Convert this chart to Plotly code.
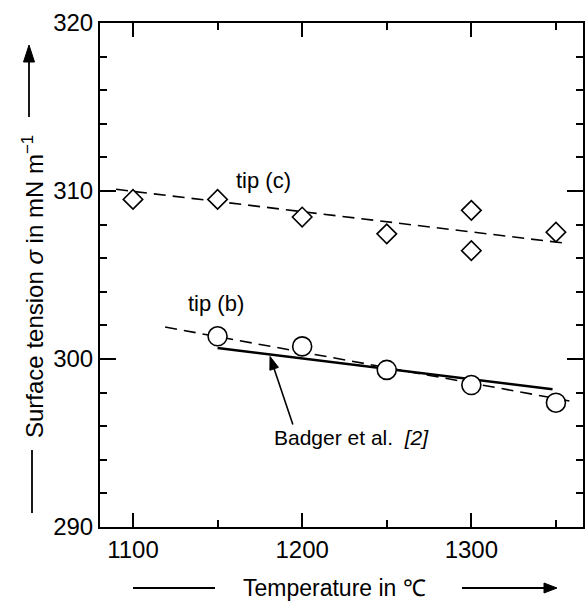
import math
import plotly.graph_objects as go

# ---- data ----
tip_c_temp = [1100, 1150, 1200, 1250, 1300, 1300, 1350]
tip_c_sigma = [309.5, 309.5, 308.45, 307.45, 308.85, 306.45, 307.55]
fit_c_temp = [1090, 1355]
fit_c_sigma = [310.1, 306.9]

tip_b_temp = [1150, 1200, 1250, 1300, 1350]
tip_b_sigma = [301.35, 300.75, 299.35, 298.45, 297.4]
fit_b_temp = [1119, 1358]
fit_b_sigma = [301.9, 297.5]

badger_temp = [1150, 1348]
badger_sigma = [300.65, 298.2]

x_range = [1080.5, 1366]
y_range = [290, 320]

FONT = "Liberation Sans, Arial, Helvetica, sans-serif"
W, H = 586, 603
ML, MR, MT, MB = 100, 3, 23, 76
PW, PH = W - ML - MR, H - MT - MB

def px(xp):
    return (xp - ML) / PW

def py(yp):
    return (H - MB - yp) / PH

def data_to_pix(x, y):
    xp = ML + (x - x_range[0]) / (x_range[1] - x_range[0]) * PW
    yp = H - MB - (y - y_range[0]) / (y_range[1] - y_range[0]) * PH
    return xp, yp

def arrow_shapes(tail, head, length=13, half_w=5, lw=1.8):
    """tail/head in pixel coordinates; returns shaft line + filled head (paper refs)."""
    (x0, y0), (x1, y1) = tail, head
    d = math.hypot(x1 - x0, y1 - y0)
    ux, uy = (x1 - x0) / d, (y1 - y0) / d
    bx, by = x1 - ux * length, y1 - uy * length
    nx, ny = -uy, ux
    p1 = (bx + nx * half_w, by + ny * half_w)
    p2 = (bx - nx * half_w, by - ny * half_w)
    path = "M {} {} L {} {} L {} {} Z".format(px(x1), py(y1), px(p1[0]), py(p1[1]),
                                             px(p2[0]), py(p2[1]))
    return [
        dict(type="line", xref="paper", yref="paper", x0=px(x0), y0=py(y0),
             x1=px(bx + ux * 2), y1=py(by + uy * 2), line=dict(color="black", width=lw)),
        dict(type="path", xref="paper", yref="paper", path=path,
             fillcolor="black", line=dict(color="black", width=1)),
    ]

fig = go.Figure()

fig.add_trace(go.Scatter(x=fit_c_temp, y=fit_c_sigma, mode="lines",
                         line=dict(color="black", width=1.6, dash="12px,7px"),
                         showlegend=False, hoverinfo="skip"))
fig.add_trace(go.Scatter(x=fit_b_temp, y=fit_b_sigma, mode="lines",
                         line=dict(color="black", width=1.6, dash="12px,7px"),
                         showlegend=False, hoverinfo="skip"))
fig.add_trace(go.Scatter(x=badger_temp, y=badger_sigma, mode="lines",
                         line=dict(color="black", width=2.5),
                         showlegend=False, hoverinfo="skip"))
fig.add_trace(go.Scatter(x=tip_c_temp, y=tip_c_sigma, mode="markers",
                         marker=dict(symbol="diamond", size=15, color="white",
                                     line=dict(color="black", width=1.6)),
                         showlegend=False))
fig.add_trace(go.Scatter(x=tip_b_temp, y=tip_b_sigma, mode="markers",
                         marker=dict(symbol="circle", size=19, color="white",
                                     line=dict(color="black", width=1.6)),
                         showlegend=False))
# invisible trace so the mirrored (top/right) tick axes are drawn
fig.add_trace(go.Scatter(x=[x_range[0]], y=[y_range[0]], xaxis="x2", yaxis="y2",
                         mode="markers", marker=dict(opacity=0), showlegend=False,
                         hoverinfo="skip"))

axis_common = dict(showline=True, linecolor="black", linewidth=2,
                   ticks="inside", tickcolor="black", tickwidth=1.8,
                   showgrid=False, zeroline=False,
                   tickfont=dict(family=FONT, size=24, color="black"))

xminor = dict(ticks="inside", dtick=50, tick0=1100, ticklen=7,
              tickcolor="black", tickwidth=1.5, showgrid=False)
yminor = dict(ticks="inside", dtick=2, tick0=290, ticklen=7,
              tickcolor="black", tickwidth=1.5, showgrid=False)

fig.update_layout(
    xaxis=dict(range=x_range, dtick=100, tick0=1100, ticklen=14, minor=xminor,
               **axis_common),
    yaxis=dict(range=y_range, dtick=10, tick0=290, ticklen=16, minor=yminor,
               **axis_common),
    xaxis2=dict(range=x_range, dtick=100, tick0=1100, ticklen=14, minor=xminor,
                overlaying="x", side="top", anchor="y2", showticklabels=False,
                **axis_common),
    yaxis2=dict(range=y_range, dtick=10, tick0=290, ticklen=16, minor=yminor,
                overlaying="y", side="right", anchor="x2", showticklabels=False,
                **axis_common),
)

annotations = [
    dict(x=1177, y=310.65, xref="x", yref="y", text="tip (c)", showarrow=False,
         font=dict(family=FONT, size=22, color="black")),
    dict(x=1149, y=303.3, xref="x", yref="y", text="tip (b)", showarrow=False,
         font=dict(family=FONT, size=22, color="black")),
    dict(x=1229, y=295.3, xref="x", yref="y", text="Badger et al.  <i>[2]</i>",
         showarrow=False, font=dict(family=FONT, size=21, color="black")),
    # x axis title
    dict(x=px(334), y=py(588), xref="paper", yref="paper",
         xanchor="center", yanchor="middle",
         text="Temperature in \u2103", showarrow=False,
         font=dict(family=FONT, size=23, color="black")),
    # y axis title
    dict(x=px(33), y=py(287), xref="paper", yref="paper",
         xanchor="center", yanchor="middle",
         text="Surface tension <i>\u03c3</i> in mN m<sup>\u22121</sup>",
         textangle=-90, showarrow=False,
         font=dict(family=FONT, size=24, color="black")),
]

shapes = [
    dict(type="line", xref="paper", yref="paper", x0=px(133), x1=px(215),
         y0=py(588), y1=py(588), line=dict(color="black", width=1.8)),
    dict(type="line", xref="paper", yref="paper", x0=px(32), x1=px(32),
         y0=py(450), y1=py(513), line=dict(color="black", width=1.8)),
]
shapes += arrow_shapes((462, 588), (557, 588), length=13, half_w=5)
shapes += arrow_shapes((29, 117), (29, 45), length=17, half_w=5.5)
shapes += arrow_shapes(data_to_pix(1194.5, 296.1), data_to_pix(1181, 300.15),
                       length=13, half_w=4.5, lw=1.6)

fig.update_layout(width=W, height=H, margin=dict(l=ML, r=MR, t=MT, b=MB),
                  paper_bgcolor="white", plot_bgcolor="white",
                  annotations=annotations, shapes=shapes,
                  font=dict(family=FONT, color="black"))

fig.write_html("out.html")
